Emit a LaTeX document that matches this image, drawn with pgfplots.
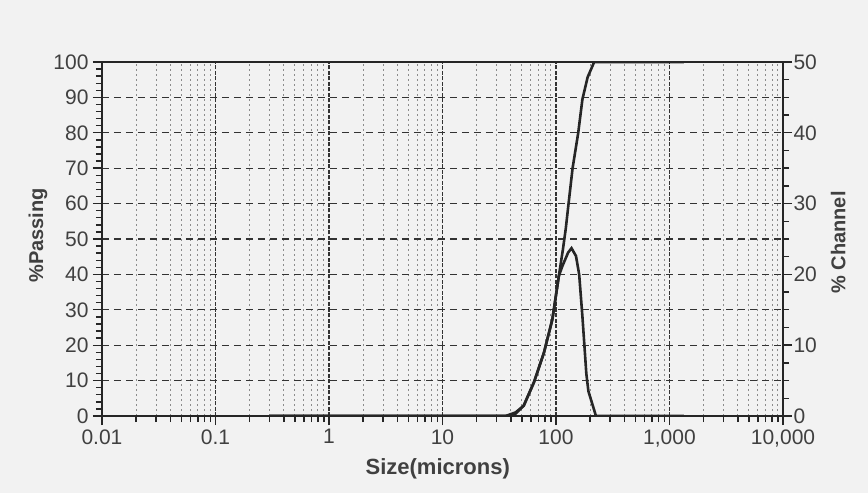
\documentclass[border=0pt]{standalone}
\usepackage{pgfplots}
\pgfplotsset{compat=1.18}
\usepackage{fontspec}
\setmainfont{Liberation Sans}

\pgfplotstableread{
size   passing
0.3    0
36     0
44     1
52     2.9
64     9.5
78.5   18
93     27.4
106    39.6
115    47
122    53
128    59
140    70
157    80
171    89.5
190    95.7
217    100
1340   100
}\passing

\pgfplotstableread{
size   channel
0.3    0
40     0
44     0.3
52     1.5
64     4.8
78.5   9
93     13.7
106    19.8
114    21.2
128    23.1
137    23.7
150    22.6
160    20
171    14
185    6
193    3.5
225    0
1340   0
}\channel

\begin{document}
\begin{tikzpicture}
\path[use as bounding box, fill=black!5] (-102bp,-77bp) rectangle (766bp,416bp);
\begin{axis}[
  at={(0,0)}, anchor=south west,
  scale only axis, width=681bp, height=354bp,
  xmode=log, xmin=0.01, xmax=10000,
  ymin=0, ymax=100,
  tick label style={font=\fontsize{21bp}{21bp}\selectfont, text=black!75},
  label style={font=\bfseries\fontsize{20bp}{20bp}\selectfont, text=black!75},
  /pgf/number format/assume math mode=true,
  axis line style={black!85, line width=1.5bp},
  tick style={black!85, line width=1.4bp},
  major tick length=9bp, minor tick length=6bp,
  tick align=outside,
  xtick={0.01,0.1,1,10,100,1000,10000},
  xticklabels={0.01,0.1,1,10,100,{1,000},{10,000}},
  minor xtick={0.02,0.03,0.04,0.05,0.06,0.07,0.08,0.09,
               0.2,0.3,0.4,0.5,0.6,0.7,0.8,0.9,
               2,3,4,5,6,7,8,9,20,30,40,50,60,70,80,90,
               200,300,400,500,600,700,800,900,
               2000,3000,4000,5000,6000,7000,8000,9000},
  ytick={0,10,...,100},
  minor y tick num=4,
  xtick pos=left, ytick pos=left,
  xmajorgrids=true, xminorgrids=true, ymajorgrids=true,
  major x grid style={black!80, line width=1.4bp, dash pattern=on 4bp off 1.5bp},
  minor x grid style={black!45, line width=1bp, dash pattern=on 2bp off 3bp},
  major y grid style={black!80, line width=1.3bp, dash pattern=on 7bp off 5bp},
  xlabel={Size(microns)},
  ylabel={\%Passing},
  xlabel style={at={(axis description cs:0.493,-0.15)}, anchor=center,
                font=\bfseries\fontsize{22bp}{22bp}\selectfont},
  ylabel style={at={(axis description cs:-0.094,0.51)}, anchor=center},
  yticklabel style={xshift=-1bp},
  xticklabel style={yshift=-1bp},
]
\addplot[black!85, line width=2.6bp] table[x=size, y=passing] {\passing};
\end{axis}
\begin{axis}[
  at={(0,0)}, anchor=south west,
  scale only axis, width=681bp, height=354bp,
  xmode=log, xmin=0.01, xmax=10000,
  ymin=0, ymax=50,
  tick label style={font=\fontsize{21bp}{21bp}\selectfont, text=black!75},
  label style={font=\bfseries\fontsize{20bp}{20bp}\selectfont, text=black!75},
  /pgf/number format/assume math mode=true,
  axis line style={black!85, line width=1.5bp},
  tick style={black!85, line width=1.4bp},
  major tick length=9bp, minor tick length=6bp,
  tick align=outside,
  axis x line=none, axis y line*=right,
  ytick={0,10,...,50},
  minor y tick num=3,
  ylabel={\% Channel},
  ylabel style={at={(axis description cs:1.081,0.49)}, anchor=center},
  yticklabel style={xshift=-2bp},
]
\addplot[black!85, line width=2.6bp] table[x=size, y=channel] {\channel};
\end{axis}
\end{tikzpicture}
\end{document}
